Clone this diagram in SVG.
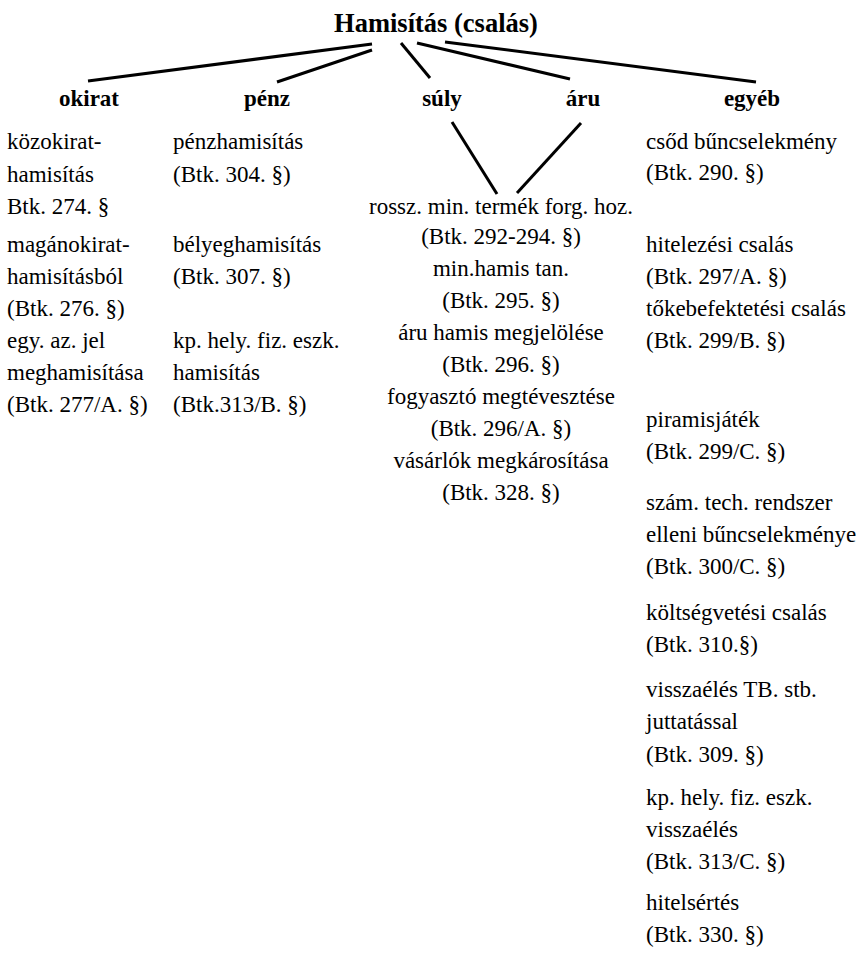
<svg xmlns="http://www.w3.org/2000/svg" width="860" height="958" viewBox="0 0 860 958">
  <style>
    text { font-family: "Liberation Serif", "Times New Roman", serif; fill: #000; }
    .title { font-size: 26.5px; font-weight: bold; text-anchor: middle; }
    .head { font-size: 23px; font-weight: bold; text-anchor: middle; }
    .item { font-size: 23px; }
    .mid { text-anchor: middle; }
    .edge { stroke: #000; stroke-width: 3; fill: none; stroke-linecap: butt; }
  </style>
  <rect width="860" height="958" fill="#fff"/>

  <!-- connectors -->
  <g id="connectors">
    <line class="edge" x1="372" y1="44" x2="88" y2="81"/>
    <line class="edge" x1="372" y1="50" x2="277" y2="82"/>
    <line class="edge" x1="401" y1="43" x2="430" y2="78"/>
    <line class="edge" x1="417" y1="43" x2="570" y2="79"/>
    <line class="edge" x1="445" y1="42" x2="756" y2="82"/>
    <line class="edge" x1="452" y1="122" x2="497" y2="194"/>
    <line class="edge" x1="581" y1="123" x2="517" y2="193"/>
  </g>

  <g id="root"><text class="title" x="436" y="32">Hamisítás (csalás)</text></g>

  <g id="okirat">
    <text class="head" x="89" y="106">okirat</text>
    <text class="item" x="7" y="149">közokirat-</text>
    <text class="item" x="7" y="182">hamisítás</text>
    <text class="item" x="7" y="214">Btk. 274. §</text>
    <text class="item" x="7" y="252">magánokirat-</text>
    <text class="item" x="7" y="284">hamisításból</text>
    <text class="item" x="7" y="316">(Btk. 276. §)</text>
    <text class="item" x="7" y="348">egy. az. jel</text>
    <text class="item" x="7" y="380">meghamisítása</text>
    <text class="item" x="7" y="412">(Btk. 277/A. §)</text>
  </g>

  <g id="penz">
    <text class="head" x="267" y="106">pénz</text>
    <text class="item" x="173" y="149">pénzhamisítás</text>
    <text class="item" x="173" y="182">(Btk. 304. §)</text>
    <text class="item" x="173" y="252">bélyeghamisítás</text>
    <text class="item" x="173" y="284">(Btk. 307. §)</text>
    <text class="item" x="173" y="348">kp. hely. fiz. eszk.</text>
    <text class="item" x="173" y="380">hamisítás</text>
    <text class="item" x="173" y="412">(Btk.313/B. §)</text>
  </g>

  <g id="suly"><text class="head" x="442" y="106">súly</text></g>
  <g id="aru"><text class="head" x="583" y="106">áru</text></g>

  <g id="aru-suly">
    <text class="item mid" x="501" y="214">rossz. min. termék forg. hoz.</text>
    <text class="item mid" x="501" y="244">(Btk. 292-294. §)</text>
    <text class="item mid" x="501" y="276">min.hamis tan.</text>
    <text class="item mid" x="501" y="308">(Btk. 295. §)</text>
    <text class="item mid" x="501" y="340">áru hamis megjelölése</text>
    <text class="item mid" x="501" y="372">(Btk. 296. §)</text>
    <text class="item mid" x="501" y="404">fogyasztó megtévesztése</text>
    <text class="item mid" x="501" y="436">(Btk. 296/A. §)</text>
    <text class="item mid" x="501" y="468">vásárlók megkárosítása</text>
    <text class="item mid" x="501" y="500">(Btk. 328. §)</text>
  </g>

  <g id="egyeb">
    <text class="head" x="752" y="106">egyéb</text>
    <text class="item" x="646" y="149">csőd bűncselekmény</text>
    <text class="item" x="646" y="180">(Btk. 290. §)</text>
    <text class="item" x="646" y="252">hitelezési csalás</text>
    <text class="item" x="646" y="284">(Btk. 297/A. §)</text>
    <text class="item" x="646" y="316">tőkebefektetési csalás</text>
    <text class="item" x="646" y="348">(Btk. 299/B. §)</text>
    <text class="item" x="646" y="427">piramisjáték</text>
    <text class="item" x="646" y="459">(Btk. 299/C. §)</text>
    <text class="item" x="646" y="510">szám. tech. rendszer</text>
    <text class="item" x="646" y="542">elleni bűncselekménye</text>
    <text class="item" x="646" y="574">(Btk. 300/C. §)</text>
    <text class="item" x="646" y="620">költségvetési csalás</text>
    <text class="item" x="646" y="652">(Btk. 310.§)</text>
    <text class="item" x="646" y="697">visszaélés TB. stb.</text>
    <text class="item" x="646" y="729">juttatással</text>
    <text class="item" x="646" y="762">(Btk. 309. §)</text>
    <text class="item" x="646" y="805">kp. hely. fiz. eszk.</text>
    <text class="item" x="646" y="837">visszaélés</text>
    <text class="item" x="646" y="869">(Btk. 313/C. §)</text>
    <text class="item" x="646" y="910">hitelsértés</text>
    <text class="item" x="646" y="942">(Btk. 330. §)</text>
  </g>
</svg>
